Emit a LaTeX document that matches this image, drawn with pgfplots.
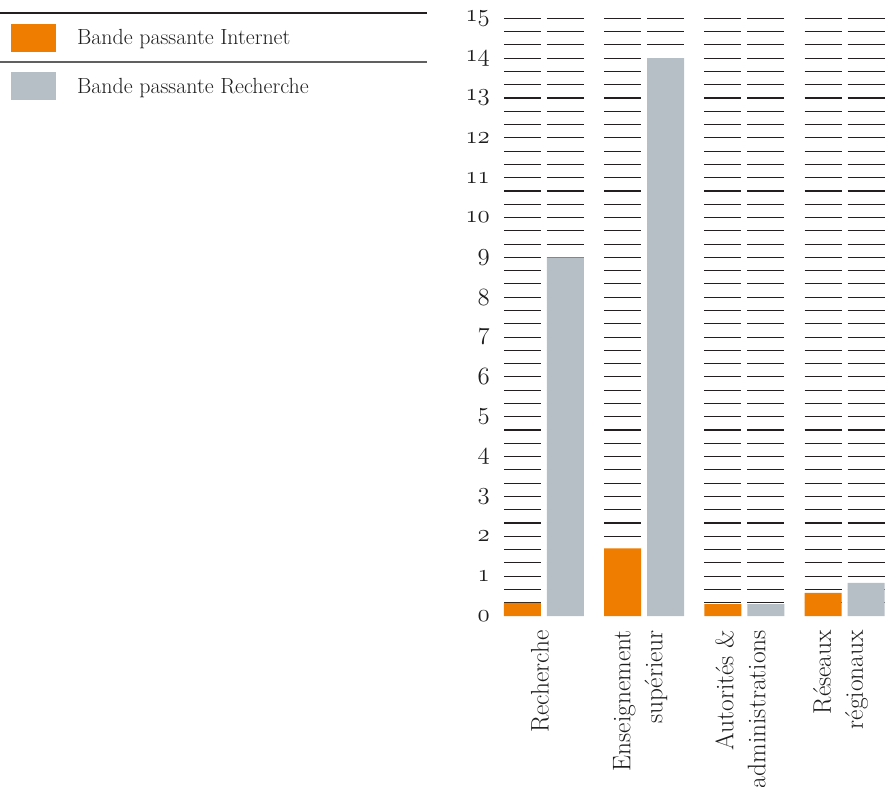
\documentclass[border=0pt]{standalone}
\usepackage{pgfplots}
\pgfplotsset{compat=1.18}
\definecolor{orng}{RGB}{238,125,0}
\definecolor{gbar}{RGB}{181,191,197}
\definecolor{gridc}{RGB}{35,31,32}
\definecolor{txt}{RGB}{30,30,30}
\newcommand{\osn}[1]{\mbox{\fontencoding{OML}\fontfamily{cmm}\fontseries{m}\fontshape{it}\selectfont #1}}
\begin{document}
\begin{tikzpicture}
\useasboundingbox (0,0) rectangle (888bp,787bp);
\begin{axis}[
  clip=false,
  at={(501.9bp,171bp)}, anchor=south west,
  scale only axis, width=384.8bp, height=597.7bp,
  xmin=-0.42, xmax=3.42, ymin=0, ymax=15,
  axis line style={draw=none},
  major tick length=0pt, minor tick length=0pt,
  xtick={0,1,2,3},
  xticklabels={Recherche, {Enseignement\\supérieur}, {Autorités \&\\administrations}, {Réseaux\\régionaux}},
  xticklabel style={xshift=-4bp, rotate=90, anchor=east, align=right, inner xsep=14bp, inner ysep=0pt,
     font=\fontsize{25.5}{32}\selectfont, text=txt},
  ytick={0,...,15},
  yticklabels={\osn{0},\osn{1},\osn{2},\osn{3},\osn{4},\osn{5},\osn{6},\osn{7},\osn{8},\osn{9},\osn{10},\osn{11},\osn{12},\osn{13},\osn{14},\osn{15}},
  yticklabel style={anchor=east, inner xsep=11.9bp, inner ysep=0pt, font=\fontsize{24}{28}\selectfont, text=txt},
  legend cell align=left,
  legend image code/.code={\fill[#1] (0bp,-14bp) rectangle (45bp,14bp);},
  legend style={at={(-1.2757,0.9905)}, anchor=north west, draw=none, fill=none,
     inner sep=0pt, outer sep=0pt, row sep=20.5bp,
     font=\fontsize{22}{26}\selectfont, text=txt,
     nodes={inner sep=0pt, outer sep=0pt},
     /tikz/every odd column/.append style={column sep=21bp}},
]
\pgfplotsextra{%
  \foreach \g in {0,1,2,3}{%
    \foreach \k in {1,...,45}{%
      \pgfmathsetmacro{\yy}{\k/3}%
      \pgfmathsetmacro{\xa}{\g-0.399}%
      \pgfmathsetmacro{\xb}{\g-0.030}%
      \pgfmathsetmacro{\xc}{\g+0.030}%
      \pgfmathsetmacro{\xd}{\g+0.399}%
      \draw[gridc, line width=1.1bp] (axis cs:\xa,\yy) -- (axis cs:\xb,\yy);
      \draw[gridc, line width=1.1bp] (axis cs:\xc,\yy) -- (axis cs:\xd,\yy);
    }%
  }%
}
\addplot[ybar, bar width=37bp, bar shift=-21.5bp, fill=orng, draw=none]
  coordinates {(0,0.33) (1,1.7) (2,0.3) (3,0.58)};
\addplot[ybar, bar width=37bp, bar shift=21.5bp, fill=gbar, draw=none]
  coordinates {(0,9) (1,14) (2,0.3) (3,0.83)};
\legend{Bande passante Internet, Bande passante Recherche}
\end{axis}
\draw[gridc, line width=1.2bp] (0,774bp) -- (427bp,774bp);
\draw[gray!75!black, line width=1.2bp] (0,725bp) -- (427bp,725bp);
\end{tikzpicture}
\end{document}
